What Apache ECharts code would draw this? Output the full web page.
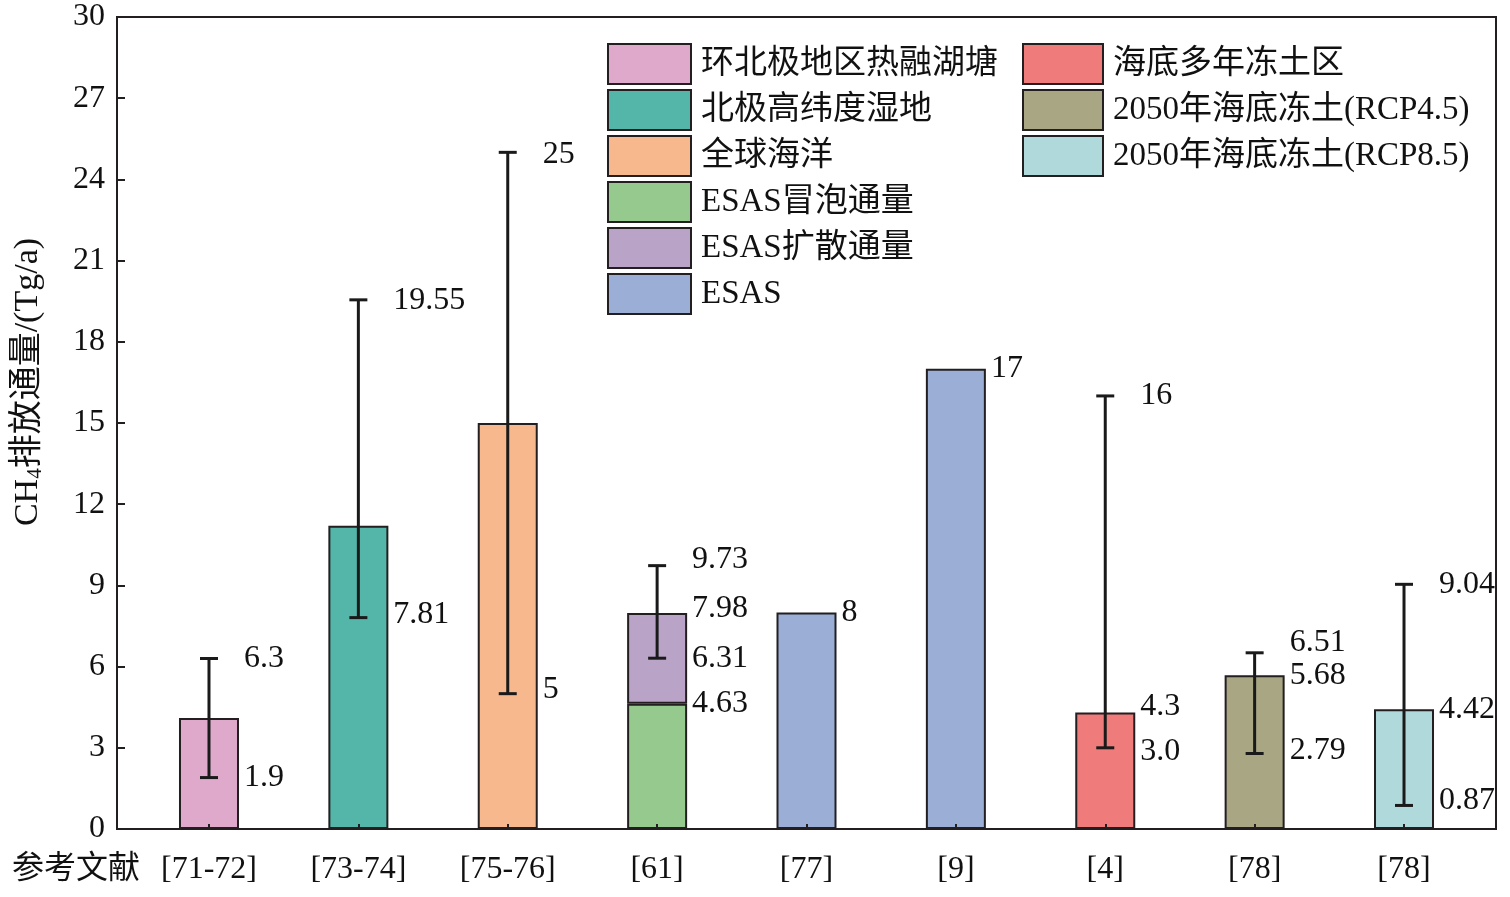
<!DOCTYPE html>
<html>
<head>
<meta charset="utf-8">
<script src="https://cdn.jsdelivr.net/npm/echarts@6/dist/echarts.min.js"></script>
<style>
  html, body { margin: 0; padding: 0; background: #fff; }
  #main { width: 1510px; height: 897px; }
</style>
</head>
<body>
<div id="main"></div>
<script>
// categories along the x axis (references)
let categories = ['[71-72]', '[73-74]', '[75-76]', '[61]', '[77]', '[9]', '[4]', '[78]', '[78]'];

// bar values per legend group ('-' = no bar at that reference)
let thawLakes   = [4.1, '-', '-', '-', '-', '-', '-', '-', '-'];
let wetlands    = ['-', 11.2, '-', '-', '-', '-', '-', '-', '-'];
let ocean       = ['-', '-', 15, '-', '-', '-', '-', '-', '-'];
let esasBubble  = ['-', '-', '-', 4.63, '-', '-', '-', '-', '-'];
let esasDiffuse = ['-', '-', '-', 3.35, '-', '-', '-', '-', '-'];
let esasTotal   = ['-', '-', '-', '-', 8, 17, '-', '-', '-'];
let subseaPerma = ['-', '-', '-', '-', '-', '-', 4.3, '-', '-'];
let rcp45       = ['-', '-', '-', '-', '-', '-', '-', 5.68, '-'];
let rcp85       = ['-', '-', '-', '-', '-', '-', '-', '-', 4.42];

// error bar ranges
let errLow  = [1.9, 7.81, 5, 6.31, null, null, 3.0, 2.79, 0.87];
let errHigh = [6.3, 19.55, 25, 9.73, null, null, 16, 6.51, 9.04];

// value annotations
let labelCats  = [0, 0, 1, 1, 2, 2, 3, 3, 3, 3, 4, 5, 6, 6, 6, 7, 7, 7, 8, 8, 8];
let labelTexts = ['6.3', '1.9', '19.55', '7.81', '25', '5', '9.73', '7.98', '6.31', '4.63',
                  '8', '17', '16', '4.3', '3.0', '6.51', '5.68', '2.79', '9.04', '4.42', '0.87'];

let yTicks = [0, 3, 6, 9, 12, 15, 18, 21, 24, 27, 30];

// small vertical nudges (px) so the annotations don't collide
let labelNudge = [0, 0, 1, -3, 2, -4, -6, -4, 0, 0, 0, 0, 0, -6, 4, -10, 0, -3, 0, 0, -5];

const serif = '"Liberation Serif", "Times New Roman", "Noto Sans CJK SC", serif';
const ink = '#231f20';

let names = ['环北极地区热融湖塘', '北极高纬度湿地', '全球海洋', 'ESAS冒泡通量', 'ESAS扩散通量', 'ESAS',
             '海底多年冻土区', '2050年海底冻土(RCP4.5)', '2050年海底冻土(RCP8.5)'];
let colors = ['#dfa9cc', '#53b6a8', '#f6b88c', '#96c98d', '#b9a3c7', '#9baed6', '#ef7b7b', '#a8a683', '#afd9da'];
let barData = [thawLakes, wetlands, ocean, esasBubble, esasDiffuse, esasTotal, subseaPerma, rcp45, rcp85];

let chart = echarts.init(document.getElementById('main'));

let barSeries = barData.map((d, i) => ({
  name: names[i],
  type: 'bar',
  xAxisIndex: 1,
  yAxisIndex: 1,
  stack: 'total',
  barWidth: 60,
  data: d,
  itemStyle: { color: colors[i], borderColor: ink, borderWidth: 2 }
}));

let errData = [];
categories.forEach((c, i) => {
  if (errLow[i] != null) errData.push([i, errLow[i], errHigh[i]]);
});

let labelData = labelCats.map((c, i) => [c, parseFloat(labelTexts[i]), labelTexts[i], labelNudge[i]]);

let legendBase = {
  orient: 'vertical',
  top: 43,
  padding: 0,
  icon: 'rect',
  itemHeight: 40,
  itemGap: 4,
  selectedMode: false,
  itemStyle: { borderColor: ink, borderWidth: 2 },
  textStyle: { color: '#111', fontFamily: serif, fontSize: 33, lineHeight: 36, padding: [4, 0, 0, 5] }
};

let option = {
  animation: false,
  backgroundColor: '#fff',
  grid: [
    { left: 117, right: 14, top: 17, bottom: 68, show: true, borderColor: ink, borderWidth: 2, backgroundColor: 'transparent' },
    { left: 134.3, right: 31.3, top: 17, bottom: 68 }
  ],
  xAxis: [
    { gridIndex: 0, type: 'value', show: false },
    {
      gridIndex: 1,
      type: 'category',
      data: categories,
      z: 5,
      axisLine: { show: false },
      axisTick: { show: true, inside: true, length: 5, alignWithLabel: true, lineStyle: { color: ink, width: 2 } },
      axisLabel: { color: '#111', fontFamily: serif, fontSize: 32, margin: 25 }
    }
  ],
  yAxis: [
    {
      gridIndex: 0,
      type: 'value',
      min: 0,
      max: 30,
      interval: 3,
      axisLine: { show: true, lineStyle: { color: ink, width: 2 } },
      axisTick: { show: true, inside: true, length: 8, lineStyle: { color: ink, width: 2 } },
      splitLine: { show: false },
      axisLabel: {
        color: '#111', fontFamily: serif, fontSize: 32, margin: 12,
        formatter: v => yTicks.indexOf(v) >= 0 ? String(v) : ''
      }
    },
    { gridIndex: 1, type: 'value', min: 0, max: 30, show: false }
  ],
  legend: [
    Object.assign({}, legendBase, { data: names.slice(0, 6), left: 607, itemWidth: 83 }),
    Object.assign({}, legendBase, { data: names.slice(6), left: 1022, itemWidth: 80 })
  ],
  graphic: [
    {
      type: 'text',
      x: 28,
      y: 382,
      rotation: Math.PI / 2,
      style: {
        text: '{a|CH}{s|4}{a|排放通量/(Tg/a)}',
        align: 'center',
        verticalAlign: 'middle',
        rich: {
          a: { fontFamily: serif, fontSize: 34, fill: '#111' },
          s: { fontFamily: serif, fontSize: 21, fill: '#111', padding: [14, 0, 0, 0] }
        }
      }
    },
    {
      type: 'text',
      x: 12,
      y: 870,
      style: { text: '参考文献', fontFamily: serif, fontSize: 32, fill: '#111', verticalAlign: 'middle' }
    }
  ],
  series: barSeries.concat([
    {
      type: 'custom',
      xAxisIndex: 1,
      yAxisIndex: 1,
      z: 4,
      data: errData,
      renderItem: function (params, api) {
        let top = api.coord([api.value(0), api.value(2)]);
        let bot = api.coord([api.value(0), api.value(1)]);
        let st = { stroke: '#1a1a1a', lineWidth: 3 };
        return {
          type: 'group',
          children: [
            { type: 'line', shape: { x1: top[0], y1: top[1], x2: bot[0], y2: bot[1] }, style: st },
            { type: 'line', shape: { x1: top[0] - 9, y1: top[1], x2: top[0] + 9, y2: top[1] }, style: st },
            { type: 'line', shape: { x1: bot[0] - 9, y1: bot[1], x2: bot[0] + 9, y2: bot[1] }, style: st }
          ]
        };
      }
    },
    {
      type: 'custom',
      xAxisIndex: 1,
      yAxisIndex: 1,
      z: 6,
      data: labelData,
      renderItem: function (params, api) {
        let d = labelData[params.dataIndex];
        let p = api.coord([d[0], d[1]]);
        return {
          type: 'text',
          x: p[0] + 35,
          y: p[1] + d[3],
          style: { text: d[2], fontFamily: serif, fontSize: 32, fill: '#111', align: 'left', verticalAlign: 'middle' }
        };
      }
    }
  ])
};

chart.setOption(option);
</script>
</body>
</html>
